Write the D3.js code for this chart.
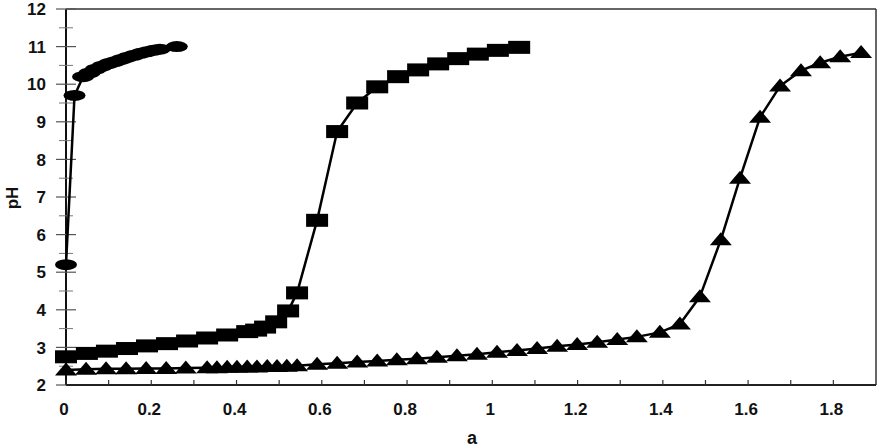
<!DOCTYPE html>
<html>
<head>
<meta charset="utf-8">
<script src="https://cdn.jsdelivr.net/npm/d3@7"></script>
<style>
  html, body { margin: 0; padding: 0; background: #fff; }
  svg { display: block; }
  text { font-family: "Liberation Sans", Arial, sans-serif; font-weight: bold; fill: #111; }
</style>
</head>
<body>
<svg id="chart" width="883" height="447"></svg>
<script>
// ---- data ----
const xTicks = [0, 0.2, 0.4, 0.6, 0.8, 1, 1.2, 1.4, 1.6, 1.8];
const xTickLabels = ["0", "0.2", "0.4", "0.6", "0.8", "1", "1.2", "1.4", "1.6", "1.8"];
const xMinorTicks = [0.1, 0.3, 0.5, 0.7, 0.9, 1.1, 1.3, 1.5, 1.7];
const yTicks = [2, 3, 4, 5, 6, 7, 8, 9, 10, 11, 12];
const yMinorTicks = [2.5, 3.5, 4.5, 5.5, 6.5, 7.5, 8.5, 9.5, 10.5, 11.5];

// series 1: ellipse markers
const s1A  = [0, 0.02, 0.04, 0.055, 0.07, 0.085, 0.1, 0.115, 0.13, 0.145, 0.16, 0.175, 0.19, 0.205, 0.22, 0.26];
const s1pH = [5.2, 9.7, 10.2, 10.3, 10.4, 10.48, 10.55, 10.6, 10.66, 10.72, 10.77, 10.82, 10.86, 10.9, 10.93, 11.0];

// series 2: square markers
const s2A  = [0, 0.049, 0.096, 0.143, 0.19, 0.237, 0.284, 0.331, 0.378, 0.425, 0.446, 0.467, 0.493, 0.521, 0.542,
              0.589, 0.636, 0.683, 0.73, 0.779, 0.826, 0.873, 0.92, 0.966, 1.013, 1.063];
const s2pH = [2.75, 2.84, 2.9, 2.97, 3.04, 3.1, 3.17, 3.25, 3.33, 3.42, 3.46, 3.54, 3.68, 3.97, 4.45,
              6.38, 8.74, 9.5, 9.93, 10.2, 10.38, 10.54, 10.68, 10.8, 10.9, 10.98];

// series 3: triangle markers
const s3A  = [0, 0.047, 0.094, 0.141, 0.188, 0.235, 0.281, 0.331, 0.354, 0.378, 0.401, 0.425, 0.448, 0.472, 0.495,
              0.518, 0.542, 0.589, 0.636, 0.683, 0.73, 0.776, 0.823, 0.87, 0.917, 0.964, 1.011, 1.058, 1.105,
              1.152, 1.199, 1.246, 1.293, 1.339, 1.393, 1.44, 1.487, 1.536, 1.581, 1.628, 1.675, 1.724, 1.769,
              1.816, 1.865];
const s3pH = [2.4, 2.42, 2.43, 2.43, 2.44, 2.44, 2.45, 2.46, 2.46, 2.47, 2.47, 2.48, 2.48, 2.49, 2.49,
              2.5, 2.51, 2.55, 2.58, 2.61, 2.64, 2.67, 2.7, 2.74, 2.78, 2.82, 2.87, 2.92, 2.97,
              3.03, 3.08, 3.14, 3.21, 3.28, 3.4, 3.62, 4.35, 5.86, 7.5, 9.12, 9.95, 10.36, 10.57,
              10.73, 10.84];

const xLabel = "a";
const yLabel = "pH";

// ---- scales ----
const x = d3.scaleLinear().domain([0, 1.9]).range([66, 876]);
const y = d3.scaleLinear().domain([2, 12]).range([385, 9]);

const svg = d3.select("#chart");

// frame (top and right)
svg.append("line").attr("x1", x(0)).attr("x2", x(1.9)).attr("y1", y(12)).attr("y2", y(12))
  .attr("stroke", "#333").attr("stroke-width", 1.5);
svg.append("line").attr("x1", x(1.9)).attr("x2", x(1.9)).attr("y1", y(12)).attr("y2", y(2))
  .attr("stroke", "#333").attr("stroke-width", 1.5);

// y axis
svg.append("line").attr("x1", x(0)).attr("x2", x(0)).attr("y1", y(12)).attr("y2", y(2))
  .attr("stroke", "#111").attr("stroke-width", 2);
svg.selectAll(".ymaj").data(yTicks).enter().append("line")
  .attr("x1", x(0) - 10).attr("x2", x(0) + 10)
  .attr("y1", d => y(d)).attr("y2", d => y(d))
  .attr("stroke", "#555").attr("stroke-width", 1.2);
svg.selectAll(".ymin").data(yMinorTicks).enter().append("line")
  .attr("x1", x(0) - 7).attr("x2", x(0) + 7)
  .attr("y1", d => y(d)).attr("y2", d => y(d))
  .attr("stroke", "#777").attr("stroke-width", 1);
svg.selectAll(".ylab").data(yTicks).enter().append("text")
  .attr("x", 46).attr("y", d => y(d)).attr("dy", "0.36em")
  .attr("text-anchor", "end").attr("font-size", 17).text(d => d);

// x axis
svg.append("line").attr("x1", x(0)).attr("x2", x(1.9)).attr("y1", y(2)).attr("y2", y(2))
  .attr("stroke", "#222").attr("stroke-width", 1.8);
svg.selectAll(".xmaj").data(xTicks.concat(xMinorTicks)).enter().append("line")
  .attr("x1", d => x(d)).attr("x2", d => x(d))
  .attr("y1", y(2)).attr("y2", y(2) - 5)
  .attr("stroke", "#333").attr("stroke-width", 1.2);
svg.selectAll(".xlab").data(xTicks).enter().append("text")
  .attr("x", d => x(d) - 2).attr("y", 415)
  .attr("text-anchor", "middle").attr("font-size", 17).text((d, i) => xTickLabels[i]);

// axis titles
svg.append("text").attr("x", 472).attr("y", 444).attr("text-anchor", "middle")
  .attr("font-size", 18).text(xLabel);
svg.append("text").attr("transform", "translate(18,198) rotate(-90)")
  .attr("text-anchor", "middle").attr("font-size", 17).text(yLabel);

// lines
const line = d3.line().x(d => x(d[0])).y(d => y(d[1]));
function pts(a, p) { return a.map((v, i) => [v, p[i]]); }
const d1 = pts(s1A, s1pH), d2 = pts(s2A, s2pH), d3s = pts(s3A, s3pH);

[d1, d2, d3s].forEach(d => {
  svg.append("path").attr("d", line(d)).attr("fill", "none")
    .attr("stroke", "#000").attr("stroke-width", 2.5).attr("stroke-linejoin", "round");
});

// markers
svg.selectAll(".tri").data(d3s).enter().append("path")
  .attr("d", d => {
    const cx = x(d[0]), cy = y(d[1]);
    return `M${cx - 11},${cy + 5.5}L${cx},${cy - 7.5}L${cx + 11},${cy + 5.5}Z`;
  })
  .attr("fill", "#000");

svg.selectAll(".sq").data(d2).enter().append("rect")
  .attr("x", d => x(d[0]) - 11).attr("y", d => y(d[1]) - 6.5)
  .attr("width", 22).attr("height", 13).attr("fill", "#000");

svg.selectAll(".ell").data(d1).enter().append("ellipse")
  .attr("cx", d => x(d[0])).attr("cy", d => y(d[1]))
  .attr("rx", 11).attr("ry", 5.5).attr("fill", "#000");
</script>
</body>
</html>
